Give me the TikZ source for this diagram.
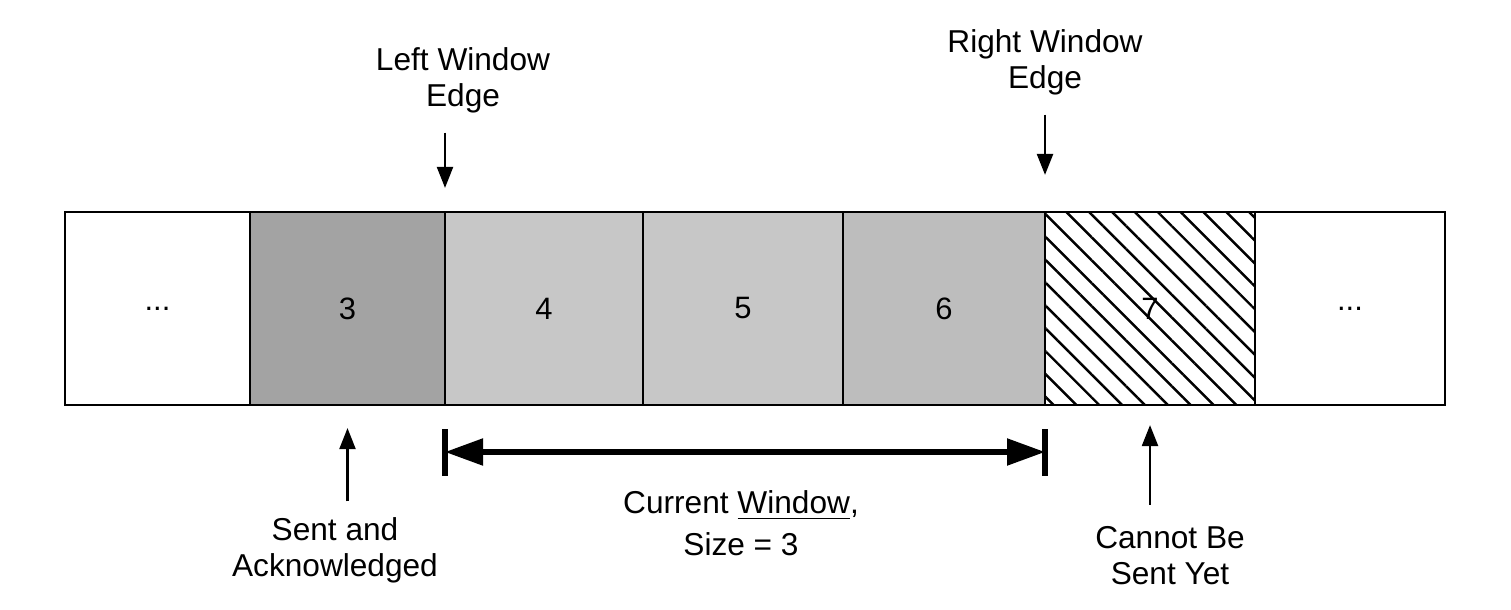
\documentclass[tikz,border=0pt]{standalone}
\usepackage{fontspec}
\setmainfont{Liberation Sans}
\usepackage{xcolor}
\usepackage{tikz}
\usetikzlibrary{arrows.meta,patterns.meta}
\tikzset{
  swcell/.style={draw=black, line width=0.8pt, minimum height=1.93cm, inner sep=0pt, outer sep=0pt, font=\fontsize{8.8}{10}\selectfont},
  swsent/.style={swcell, fill=black!36},
  swwin/.style={swcell, fill=black!22},
  swhatch/.style={swcell, pattern={Lines[angle=-45,distance=4.6pt,line width=0.7pt]}},
  swlabel/.style={align=center, font=\fontsize{9}{10.3}\selectfont, inner sep=2pt},
  swpointer/.style={line width=0.8pt, -{Triangle[length=6pt,width=4.5pt]}},
  swspan/.style={line width=1.5pt, {Triangle[length=0.38cm,width=0.26cm]}-{Triangle[length=0.38cm,width=0.26cm]}},
  swbar/.style={line width=1.5pt},
}

\begin{document}
\begin{tikzpicture}
\useasboundingbox (0,0) rectangle (15.11,6.09);
% the segments
\node[swcell, minimum width=1.85cm] (c2) at (1.575,3.005) {...};
\node[swsent, minimum width=1.95cm] (c3) at (3.475,3.005) {3};
\node[swwin, minimum width=1.98cm] (c4) at (5.44,3.005) {4};
\node[swwin, minimum width=2.00cm] (c5) at (7.43,3.005) {5};
\node[swwin, fill=black!26, minimum width=2.02cm] (c6) at (9.44,3.005) {6};
\node[swhatch, minimum width=2.10cm] (c7) at (11.50,3.005) {7};
\node[swcell, minimum width=1.90cm] (c8) at (13.50,3.005) {...};
% labels
\node[swlabel] (le) at (4.63,5.29) {Left Window\\Edge};
\node[swlabel] (re) at (10.45,5.47) {Right Window\\Edge};
\node[swlabel] (sa) at (3.35,0.59) {Sent and\\Acknowledged};
\node[swlabel, font=\fontsize{9}{12}\selectfont] (cw) at (7.41,0.86) {Current \underline{Window},\\Size = 3};
\node[swlabel] (cb) at (11.70,0.53) {Cannot Be\\Sent Yet};
% pointers
\coordinate (leTop) at (le.south -| c4.west);
\coordinate (reTop) at (re.south -| c7.west);
\coordinate (saTop) at (sa.north -| c3.south);
\coordinate (cbTop) at (cb.north -| c7.south);
\draw[swpointer] ([yshift=-0.12cm]leTop) -- ([yshift=0.24cm]c4.north west);
\draw[swpointer] ([yshift=-0.12cm]reTop) -- ([yshift=0.37cm]c7.north west);
\draw[swpointer] ([yshift=0.08cm]saTop) -- ([yshift=-0.23cm]c3.south);
\draw[swpointer] ([yshift=0.14cm]cbTop) -- ([yshift=-0.20cm]c7.south);
% window span
\coordinate (wl) at ([yshift=-0.47cm]c4.south west);
\coordinate (wr) at ([yshift=-0.47cm]c7.south west);
\draw[swspan] (wl) -- (wr);
\draw[swbar] ([yshift=0.23cm]wl) -- ([yshift=-0.24cm]wl);
\draw[swbar] ([yshift=0.23cm]wr) -- ([yshift=-0.24cm]wr);
\end{tikzpicture}
\end{document}
